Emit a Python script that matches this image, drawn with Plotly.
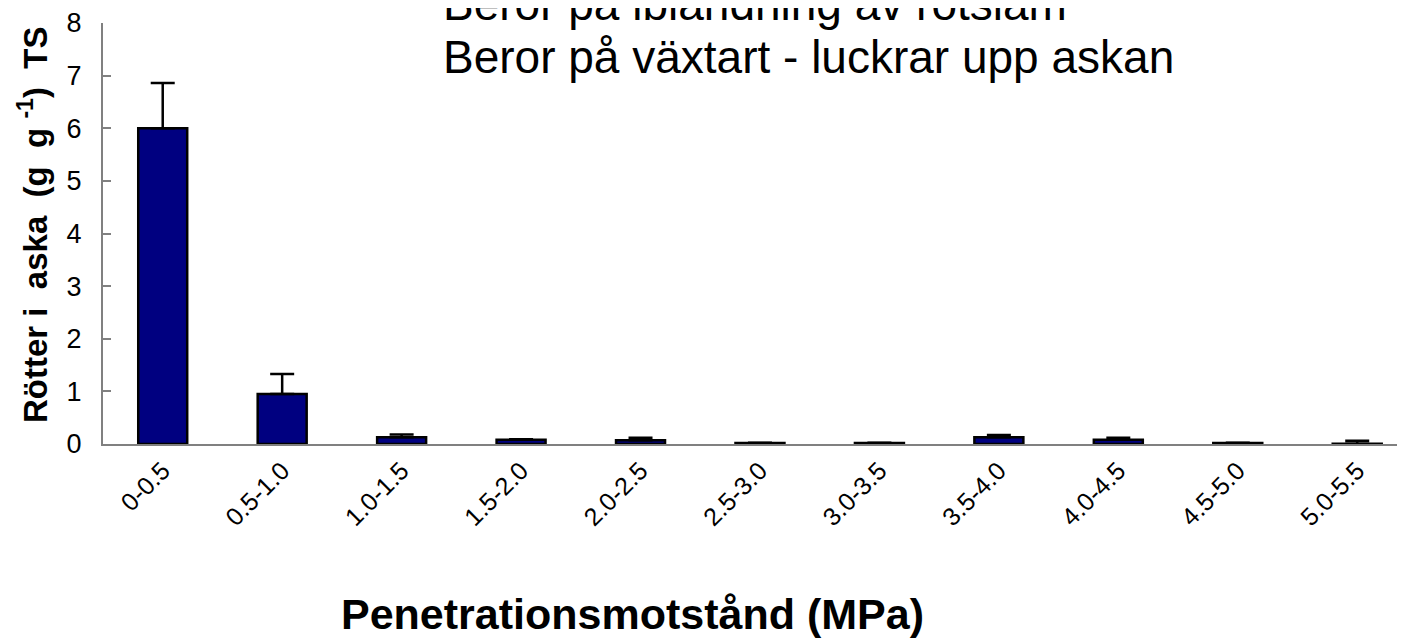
import plotly.graph_objects as go

categories = ["0-0.5", "0.5-1.0", "1.0-1.5", "1.5-2.0", "2.0-2.5", "2.5-3.0",
              "3.0-3.5", "3.5-4.0", "4.0-4.5", "4.5-5.0", "5.0-5.5"]
values = [6.0, 0.95, 0.13, 0.08, 0.07, 0.02, 0.02, 0.13, 0.08, 0.02, 0.005]
errors = [0.86, 0.38, 0.05, 0.01, 0.05, 0.005, 0.005, 0.04, 0.04, 0.005, 0.055]
y_ticks = [0, 1, 2, 3, 4, 5, 6, 7, 8]

FONT = "Liberation Sans, Arial, sans-serif"

# body has an 8px default margin; compensate so the plot sits where the reference does
OFF = 8
W, H = 1405 - OFF, 638 - OFF
L, T, B = 103 - OFF, 23 - OFF, 194
PH = H - T - B  # plot height in px (421)
PW = W - L      # plot width in px


def px_x(x):
    return (x - OFF - L) / PW


def px_y(y):
    return (T + PH - (y - OFF)) / PH


fig = go.Figure()
fig.add_trace(go.Bar(
    x=list(range(len(categories))), y=values,
    width=0.41,
    marker=dict(color="#000080", line=dict(color="black", width=2.5)),
    error_y=dict(type="data", array=errors, arrayminus=[0]*len(errors),
                 symmetric=False, color="black", thickness=2.5, width=12),
))

fig.update_layout(
    width=W, height=H,
    margin=dict(l=L, r=0, t=T, b=B, pad=0),
    plot_bgcolor="white", paper_bgcolor="white",
    showlegend=False,
    font=dict(family=FONT, color="black"),
    xaxis=dict(
        tickmode="array", tickvals=list(range(len(categories))), ticktext=categories,
        tickangle=-45, tickfont=dict(size=25), range=[-0.5, 10.4],
        showline=True, linecolor="#808080", linewidth=2, ticks="", showgrid=False,
        zeroline=False,
    ),
    yaxis=dict(
        range=[0, 8], tickvals=y_ticks, tickfont=dict(size=27),
        showline=True, linecolor="#808080", linewidth=2,
        ticks="inside", ticklen=8, tickcolor="#808080", tickwidth=1.5,
        ticklabelstandoff=14,
        showgrid=False, zeroline=False,
    ),
)

NB = "\u00a0"
fig.add_annotation(text=f"<b>Rötter{NB}i{NB}{NB}aska{NB}{NB}(g{NB}{NB}g{NB}<sup>-1</sup>){NB}{NB}TS</b>",
                   xref="paper", yref="paper", x=px_x(33), y=px_y(225),
                   xanchor="center", yanchor="middle", textangle=-90,
                   showarrow=False, font=dict(size=33, family=FONT))
fig.add_annotation(text="<b>Penetrationsmotstånd (MPa)</b>",
                   xref="paper", yref="paper", x=px_x(632), y=px_y(614),
                   xanchor="center", yanchor="middle",
                   showarrow=False, font=dict(size=43, family=FONT))
fig.add_annotation(text="Beror på iblandning av rotslam",
                   xref="paper", yref="paper", x=px_x(441), y=px_y(4),
                   xanchor="left", yanchor="middle",
                   showarrow=False, font=dict(size=46, family=FONT))
fig.add_annotation(text="Beror på växtart - luckrar upp askan",
                   xref="paper", yref="paper", x=px_x(441), y=px_y(57),
                   xanchor="left", yanchor="middle",
                   showarrow=False, font=dict(size=46, family=FONT))

fig.write_html("out.html")
